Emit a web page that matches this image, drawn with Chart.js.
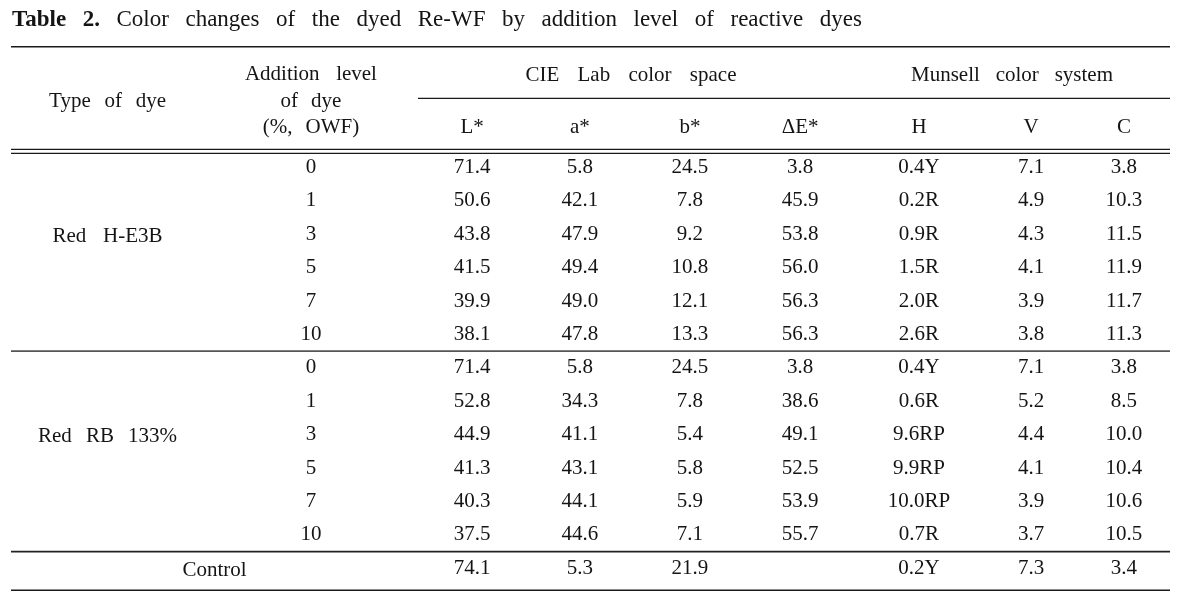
<!DOCTYPE html>
<html>
<head>
<meta charset="utf-8">
<script src="https://cdn.jsdelivr.net/npm/chart.js@4/dist/chart.umd.min.js"></script>
<style>
  html, body { margin: 0; padding: 0; background: #ffffff; }
  #wrap { width: 1191px; height: 594px; position: relative; }
</style>
</head>
<body>
<div id="wrap"><canvas id="c" width="1191" height="594"></canvas></div>
<script>
// ---------- DATA ----------
const titleBold = 'Table 2.';
const titleText = 'Color changes of the dyed Re-WF by addition level of reactive dyes';
const dyeTypes = ['Red H-E3B', 'Red RB 133%'];
const controlLabel = 'Control';
const levels = ['0', '1', '3', '5', '7', '10'];
const groupHeads = ['CIE Lab color space', 'Munsell color system'];
const colHeads = ['L*', 'a*', 'b*', '\u0394E*', 'H', 'V', 'C'];

// Red H-E3B
const L_H  = [71.4, 50.6, 43.8, 41.5, 39.9, 38.1];
const a_H  = [5.8, 42.1, 47.9, 49.4, 49.0, 47.8];
const b_H  = [24.5, 7.8, 9.2, 10.8, 12.1, 13.3];
const dE_H = [3.8, 45.9, 53.8, 56.0, 56.3, 56.3];
const Hu_H = ['0.4Y', '0.2R', '0.9R', '1.5R', '2.0R', '2.6R'];
const V_H  = [7.1, 4.9, 4.3, 4.1, 3.9, 3.8];
const C_H  = [3.8, 10.3, 11.5, 11.9, 11.7, 11.3];

// Red RB 133%
const L_R  = [71.4, 52.8, 44.9, 41.3, 40.3, 37.5];
const a_R  = [5.8, 34.3, 41.1, 43.1, 44.1, 44.6];
const b_R  = [24.5, 7.8, 5.4, 5.8, 5.9, 7.1];
const dE_R = [3.8, 38.6, 49.1, 52.5, 53.9, 55.7];
const Hu_R = ['0.4Y', '0.6R', '9.6RP', '9.9RP', '10.0RP', '0.7R'];
const V_R  = [7.1, 5.2, 4.4, 4.1, 3.9, 3.7];
const C_R  = [3.8, 8.5, 10.0, 10.4, 10.6, 10.5];

// Control
const L_C = 74.1, a_C = 5.3, b_C = 21.9, dE_C = null, Hu_C = '0.2Y', V_C = 7.3, C_C = 3.4;

// ---------- LAYOUT (column centres in % of table width) ----------
const colPos = { type: 8.33, level: 25.88, control: 17.56,
  L: 39.78, a: 49.09, b: 58.58, dE: 68.08, H: 78.34, V: 88.01, C: 96.03,
  groupLineStart: 35.12, cieHead: 53.49, munHead: 86.37 };

const FONT = '"Liberation Serif", "Times New Roman", serif';
const INK = '#141414';

const rowKeys = [
  ...levels.map(l => 'H ' + l),
  ...levels.map(l => 'R ' + l),
  'Control'
];

function fmt(v) { return v == null ? null : (typeof v === 'number' ? v.toFixed(1) : v); }

const columnDefs = [
  { key: 'level', pos: colPos.level, vals: [...levels, ...levels, null] },
  { key: 'L',  pos: colPos.L,  vals: [...L_H, ...L_R, L_C] },
  { key: 'a',  pos: colPos.a,  vals: [...a_H, ...a_R, a_C] },
  { key: 'b',  pos: colPos.b,  vals: [...b_H, ...b_R, b_C] },
  { key: 'dE', pos: colPos.dE, vals: [...dE_H, ...dE_R, dE_C] },
  { key: 'H',  pos: colPos.H,  vals: [...Hu_H, ...Hu_R, Hu_C] },
  { key: 'V',  pos: colPos.V,  vals: [...V_H, ...V_R, V_C] },
  { key: 'C',  pos: colPos.C,  vals: [...C_H, ...C_R, C_C] },
];

const datasets = columnDefs.map(cd => {
  const pts = [], texts = [];
  cd.vals.forEach((v, i) => {
    const t = fmt(v);
    if (t !== null) { pts.push({ x: cd.pos, y: rowKeys[i] }); texts.push(t); }
  });
  return { label: cd.key, data: pts, cellText: texts, pointRadius: 0, showLine: false };
});
// row label column: dye types beside each group, control spanning first two columns
datasets.push({ label: 'type', data: [
    { x: colPos.type, y: rowKeys[2] },
    { x: colPos.type, y: rowKeys[8] },
    { x: colPos.control, y: rowKeys[12] } ],
  cellText: [dyeTypes[0], dyeTypes[1], controlLabel], pointRadius: 0, showLine: false });

// ---------- drawing helpers ----------
function drawWords(ctx, text, cx, cy, opt) {
  opt = opt || {};
  const words = text.split(/\s+/);
  const ws = words.map(w => ctx.measureText(w).width);
  const sum = ws.reduce((p, q) => p + q, 0);
  let gap = opt.gap != null ? opt.gap : 14;
  if (opt.width && words.length > 1) gap = (opt.width - sum) / (words.length - 1);
  const total = sum + gap * (words.length - 1);
  let xx = cx - total / 2;
  ctx.textAlign = 'left';
  words.forEach((w, i) => { ctx.fillText(w, xx, cy); xx += ws[i] + gap; });
}

function hline(ctx, x1, x2, y, w, col) {
  ctx.save();
  ctx.beginPath();
  ctx.strokeStyle = col || INK;
  ctx.lineWidth = w;
  ctx.moveTo(x1, y); ctx.lineTo(x2, y);
  ctx.stroke();
  ctx.restore();
}

const fitWidth = { 'Type of dye': 117, 'Addition level': 132, 'CIE Lab color space': 211,
  'Munsell color system': 202, 'Red H-E3B': 110, 'Red RB 133%': 139 };

const PAD_TOP = 150.8;

const tablePlugin = {
  id: 'tablePlugin',
  afterDatasetsDraw(chart) {
    const ctx = chart.ctx;
    const xs = chart.scales.x, ys = chart.scales.y, area = chart.chartArea;
    const left = area.left, right = area.right;
    const hy = v => area.top + (v - PAD_TOP);   // header offsets relative to the body area
    const rowY = i => ys.getPixelForValue(i);
    ctx.save();
    ctx.fillStyle = INK;
    ctx.textBaseline = 'middle';

    // Title
    const titleY = hy(20), TF = 23;
    const bwords = titleBold.split(' ');
    const rwords = titleText.split(' ');
    ctx.font = TF + 'px ' + FONT;
    const rws = rwords.map(w => ctx.measureText(w).width);
    ctx.font = 'bold ' + TF + 'px ' + FONT;
    const bws = bwords.map(w => ctx.measureText(w).width);
    const titleLeft = left + 1, titleRight = 862;
    const nGaps = bwords.length + rwords.length - 1;
    const tsum = bws.reduce((p, q) => p + q, 0) + rws.reduce((p, q) => p + q, 0);
    const tgap = (titleRight - titleLeft - tsum) / nGaps;
    let tx = titleLeft;
    ctx.textAlign = 'left';
    bwords.forEach((w, i) => { ctx.font = 'bold ' + TF + 'px ' + FONT; ctx.fillText(w, tx, titleY); tx += bws[i] + tgap; });
    rwords.forEach((w, i) => { ctx.font = TF + 'px ' + FONT; ctx.fillText(w, tx, titleY); tx += rws[i] + tgap; });

    // Rules
    hline(ctx, left, right, hy(46.7), 1.6, '#1a1a1a');
    const gStart = xs.getPixelForValue(colPos.groupLineStart);
    hline(ctx, gStart, right, hy(98.3), 1.2, '#1a1a1a');
    hline(ctx, left, right, hy(149.3), 1.3, '#1a1a1a');
    hline(ctx, left, right, hy(153.3), 1.3, '#1a1a1a');
    const sep1 = (rowY(5) + rowY(6)) / 2;
    const sep2 = (rowY(11) + rowY(12)) / 2;
    hline(ctx, left, right, sep1, 1.8, '#555555');
    hline(ctx, left, right, sep2, 1.6, '#222222');
    hline(ctx, left, right, rowY(12) + 22, 1.6, '#1a1a1a');

    // Header text
    ctx.font = '21px ' + FONT;
    const h1 = hy(74.3), h2 = hy(101.3), h3 = hy(127.3);
    drawWords(ctx, 'Type of dye', xs.getPixelForValue(colPos.type), h2, { width: fitWidth['Type of dye'] });
    drawWords(ctx, 'Addition level', xs.getPixelForValue(colPos.level), h1, { width: fitWidth['Addition level'] });
    drawWords(ctx, 'of dye', xs.getPixelForValue(colPos.level), h2, { gap: 13 });
    drawWords(ctx, '(%, OWF)', xs.getPixelForValue(colPos.level), h3, { gap: 13 });
    drawWords(ctx, groupHeads[0], xs.getPixelForValue(colPos.cieHead), h1 + 1, { width: fitWidth[groupHeads[0]] });
    drawWords(ctx, groupHeads[1], xs.getPixelForValue(colPos.munHead), h1 + 1, { width: fitWidth[groupHeads[1]] });
    const headKeys = ['L', 'a', 'b', 'dE', 'H', 'V', 'C'];
    headKeys.forEach((k, i) => {
      ctx.textAlign = 'center';
      ctx.fillText(colHeads[i], xs.getPixelForValue(colPos[k]), h3);
    });

    // Cells, at the positions of the library's point elements
    chart.data.datasets.forEach((ds, di) => {
      const meta = chart.getDatasetMeta(di);
      meta.data.forEach((el, i) => {
        const t = ds.cellText[i];
        const yy = el.y + (ds.label === 'type' ? 2 : 0);
        if (t.indexOf(' ') >= 0) drawWords(ctx, t, el.x, yy, { width: fitWidth[t] });
        else { ctx.textAlign = 'center'; ctx.fillText(t, el.x, yy); }
      });
    });
    ctx.restore();
  }
};

new Chart(document.getElementById('c'), {
  type: 'scatter',
  data: { datasets },
  options: {
    responsive: false,
    animation: false,
    events: [],
    layout: { padding: { left: 11, right: 21, top: PAD_TOP, bottom: 9 } },
    scales: {
      x: { type: 'linear', min: 0, max: 100, display: false },
      y: { type: 'category', labels: rowKeys, offset: true, display: false }
    },
    plugins: { legend: { display: false }, tooltip: { enabled: false }, title: { display: false } }
  },
  plugins: [tablePlugin]
});
</script>
</body>
</html>
